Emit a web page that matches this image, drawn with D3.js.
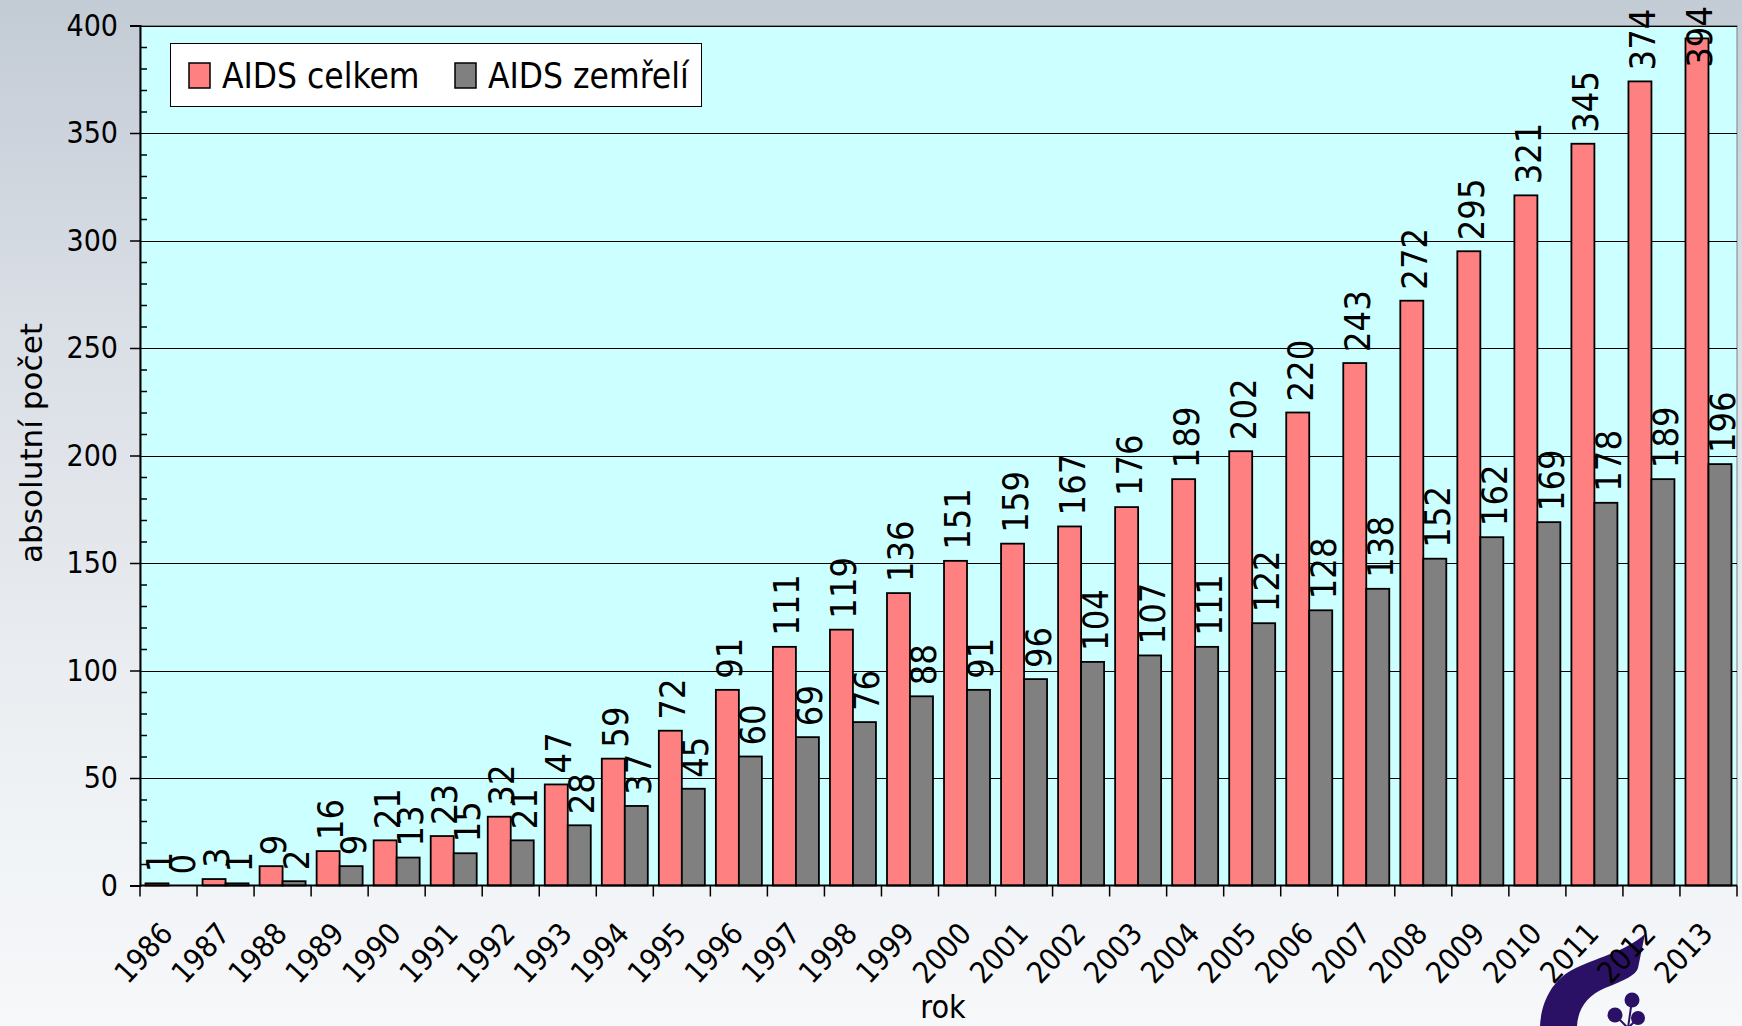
<!DOCTYPE html>
<html>
<head>
<meta charset="utf-8">
<script src="https://cdn.jsdelivr.net/npm/d3@7"></script>
<style>
  html, body { margin: 0; padding: 0; overflow: hidden; }
  svg { display: block; }
  text { font-family: "DejaVu Sans Condensed", "DejaVu Sans", sans-serif; font-stretch: condensed; fill: #000; }
</style>
</head>
<body>
<svg id="chart"></svg>
<script>
const years = [1986, 1987, 1988, 1989, 1990, 1991, 1992, 1993, 1994, 1995, 1996, 1997, 1998, 1999,
  2000, 2001, 2002, 2003, 2004, 2005, 2006, 2007, 2008, 2009, 2010, 2011, 2012, 2013];
const celkem = [1, 3, 9, 16, 21, 23, 32, 47, 59, 72, 91, 111, 119, 136,
  151, 159, 167, 176, 189, 202, 220, 243, 272, 295, 321, 345, 374, 394];
const zemreli = [0, 1, 2, 9, 13, 15, 21, 28, 37, 45, 60, 69, 76, 88,
  91, 96, 104, 107, 111, 122, 128, 138, 152, 162, 169, 178, 189, 196];
const seriesNames = ["AIDS celkem", "AIDS zemřelí"];
const seriesColors = ["#ff8080", "#808080"];
const yTicks = [0, 50, 100, 150, 200, 250, 300, 350, 400];

const width = 1742, height = 1026;
const plot = { left: 140, right: 1737, top: 25.5, bottom: 885.5 };

const svg = d3.select("#chart").attr("width", width).attr("height", height);

// page background
const defs = svg.append("defs");
const grad = defs.append("linearGradient").attr("id", "bg").attr("x1", 0).attr("y1", 0).attr("x2", 0).attr("y2", 1);
[[0, "#c3cbd5"], [0.3, "#d9dee5"], [0.75, "#eef1f4"], [1, "#f6f8fa"]].forEach(s =>
  grad.append("stop").attr("offset", s[0]).attr("stop-color", s[1]));
svg.append("rect").attr("width", width).attr("height", height).attr("fill", "url(#bg)");

// logo in the corner (under the year labels)
const logo = svg.append("g").attr("fill", "#2b1165");
logo.append("path")
  .attr("d", "M1645,934 C1625,952 1595,958 1572,970 C1550,982 1541,1005 1540,1026 L1577,1026 C1578,1008 1588,995 1605,988 C1625,980 1636,975 1638,968 Z");
[[1632, 1000, 7.5], [1615, 1015, 7.5], [1638, 1018, 7]].forEach(c => {
  logo.append("circle").attr("cx", c[0]).attr("cy", c[1]).attr("r", c[2]);
  logo.append("line").attr("x1", c[0]).attr("y1", c[1]).attr("x2", 1628).attr("y2", 1028)
    .attr("stroke", "#2b1165").attr("stroke-width", 2);
});

const x0 = d3.scaleBand().domain(years).range([plot.left, plot.right]).padding(0);
const x1 = d3.scaleBand().domain(seriesNames).range([0, x0.bandwidth()]).paddingInner(0).paddingOuter(0.24);
const y = d3.scaleLinear().domain([0, 400]).range([plot.bottom, plot.top]);

// plot area
svg.append("rect")
  .attr("x", plot.left).attr("y", plot.top)
  .attr("width", plot.right - plot.left).attr("height", plot.bottom - plot.top)
  .attr("fill", "#ccffff").attr("stroke", "#808080").attr("stroke-width", 1);

svg.append("g").selectAll("line").data(yTicks.filter(d => d > 0)).join("line")
  .attr("x1", plot.left).attr("x2", plot.right)
  .attr("y1", d => Math.round(y(d)) + 0.5).attr("y2", d => Math.round(y(d)) + 0.5)
  .attr("stroke", "#000").attr("stroke-width", 1);

// y axis
const yAxis = svg.append("g").attr("transform", `translate(${plot.left},0)`)
  .call(d3.axisLeft(y).tickValues(yTicks).tickSize(10).tickPadding(12));
yAxis.select(".domain").attr("stroke", "#000").attr("stroke-width", 2);
yAxis.selectAll(".tick line").attr("stroke", "#000").attr("stroke-width", 1.5);
yAxis.selectAll(".tick text").attr("font-size", 30).attr("font-family", null);

const minor = d3.range(0, 401, 10).filter(d => d % 50 !== 0);
svg.append("g").attr("transform", `translate(${plot.left},0)`)
  .call(d3.axisRight(y).tickValues(minor).tickSize(7).tickFormat(""))
  .call(g => g.select(".domain").remove())
  .selectAll(".tick line").attr("stroke", "#000").attr("stroke-width", 1.5);

// bars
const rows = years.map((yr, i) => ({ year: yr, values: [celkem[i], zemreli[i]] }));
const groups = svg.append("g").selectAll("g").data(rows).join("g")
  .attr("transform", d => `translate(${x0(d.year)},0)`);

groups.selectAll("rect").data(d => d.values.map((v, j) => ({ key: seriesNames[j], v, j }))).join("rect")
  .attr("x", d => x1(d.key))
  .attr("width", x1.bandwidth())
  .attr("y", d => y(d.v))
  .attr("height", d => y(0) - y(d.v))
  .attr("fill", d => seriesColors[d.j])
  .attr("stroke", "#000").attr("stroke-width", 1.8);

// data labels, rotated; the top one is pushed down to stay on the page
groups.selectAll("text.lbl").data(d => d.values.map((v, j) => ({ key: seriesNames[j], v, j }))).join("text")
  .attr("class", "lbl")
  .attr("font-size", 36)
  .attr("dy", "0.36em")
  .text(d => d.v)
  .each(function (d) {
    const len = this.getComputedTextLength();
    const cx = x1(d.key) + x1.bandwidth() / 2 + 2;
    const start = Math.max(y(d.v) - 11, 6 + len);
    d3.select(this).attr("transform", `translate(${cx},${start}) rotate(-90)`);
  });

// bottom axis line and category ticks
svg.append("line")
  .attr("x1", plot.left).attr("x2", plot.right)
  .attr("y1", plot.bottom).attr("y2", plot.bottom)
  .attr("stroke", "#000").attr("stroke-width", 2);

const bounds = years.map(d => x0(d)).concat([plot.right]);
svg.append("g").selectAll("line").data(bounds).join("line")
  .attr("x1", d => d).attr("x2", d => d)
  .attr("y1", plot.bottom).attr("y2", plot.bottom + 11)
  .attr("stroke", "#000").attr("stroke-width", 1.5);

svg.append("g").selectAll("text").data(years).join("text")
  .attr("transform", d => `translate(${x0(d) + x0.bandwidth() / 2 + 6},${935}) rotate(-47)`)
  .attr("text-anchor", "end")
  .attr("font-size", 30)
  .text(d => d);

// axis titles
svg.append("text")
  .attr("transform", "translate(42,443) rotate(-90)")
  .attr("text-anchor", "middle")
  .attr("font-size", 31)
  .attr("textLength", 240).attr("lengthAdjust", "spacingAndGlyphs")
  .text("absolutní počet");

svg.append("text")
  .attr("x", 943).attr("y", 1018)
  .attr("text-anchor", "middle")
  .attr("font-size", 32)
  .text("rok");

// legend
const legend = svg.append("g");
legend.append("rect")
  .attr("x", 170.5).attr("y", 43.5).attr("width", 531).attr("height", 63)
  .attr("fill", "#fff").attr("stroke", "#000").attr("stroke-width", 1);
const legendX = [189, 455];
seriesNames.forEach((name, i) => {
  legend.append("rect")
    .attr("x", legendX[i]).attr("y", 63).attr("width", 21).attr("height", 25)
    .attr("fill", seriesColors[i]).attr("stroke", "#000").attr("stroke-width", 1.5);
  legend.append("text")
    .attr("x", legendX[i] + 33).attr("y", 88)
    .attr("font-size", 35)
    .text(name);
});
</script>
</body>
</html>
